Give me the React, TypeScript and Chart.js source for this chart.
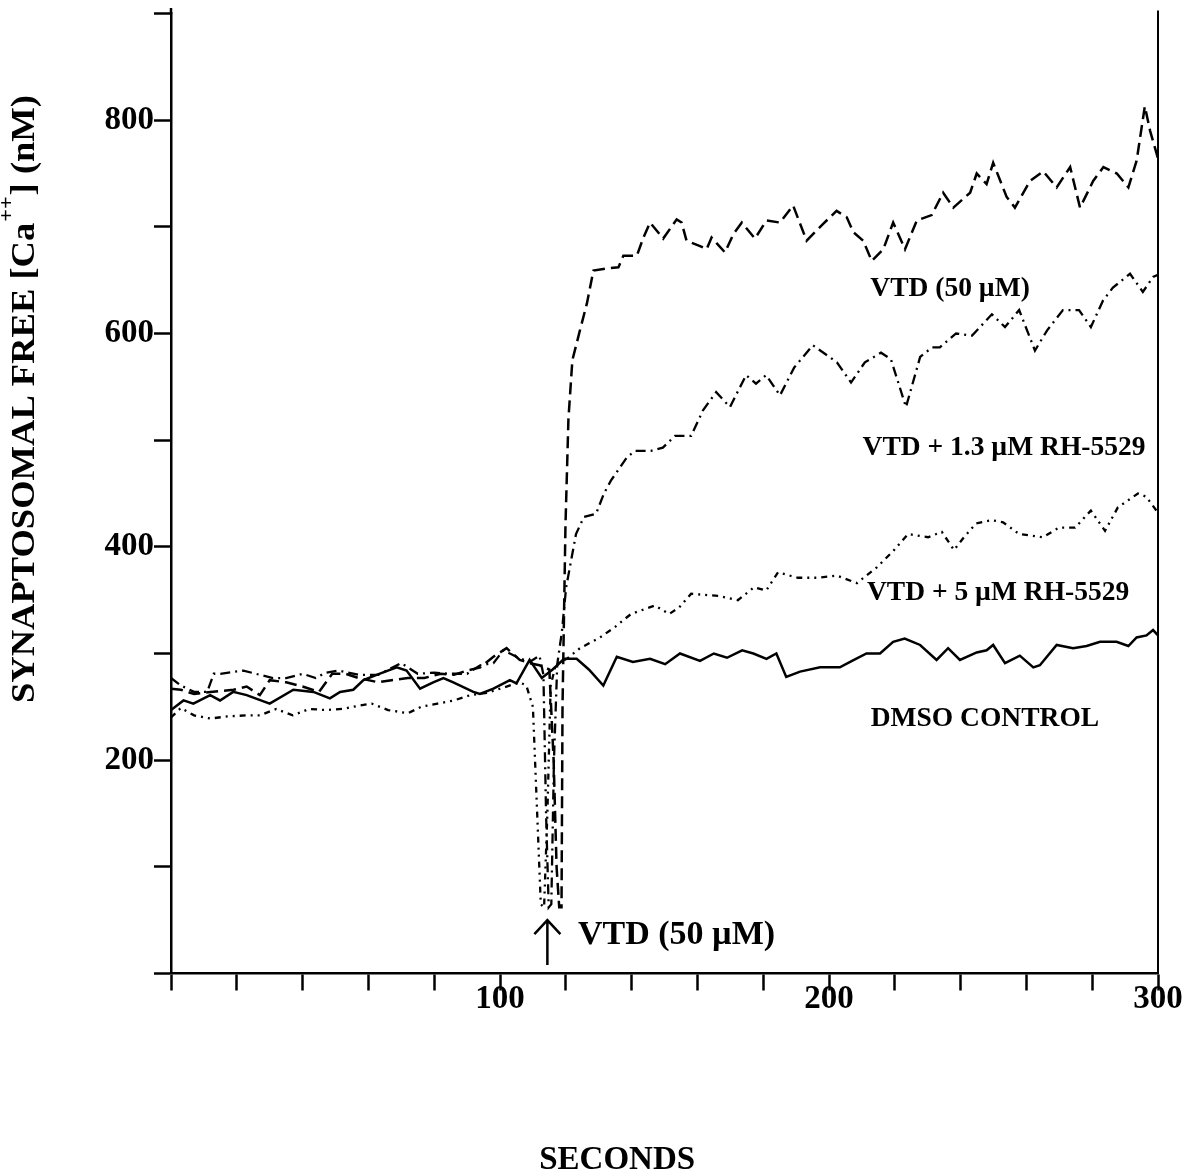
import React, { useEffect, useRef } from 'react';
import { Chart, registerables } from 'chart.js';

Chart.register(...registerables);

// ---- Data (time in seconds, [Ca++] in nM) ----
const dmsoT = [0, 3.8, 6.8, 11.9, 14.9, 18.9, 23, 30, 37.2, 43.3, 48.3, 51.4, 55.4, 58.5, 62.5, 68.6, 71.6, 75.7, 79.7, 82.8, 85.8, 91.9, 93.9, 98, 103, 105, 109, 112.7, 116, 119.5, 123.3, 127, 131.4, 135.5, 140.4, 145.6, 150.2, 154.7, 160.8, 165, 169, 173.6, 177, 181, 184, 187, 191.2, 197.3, 203.3, 207, 211.4, 215.5, 219.5, 223, 227.7, 232.7, 236.2, 239.8, 244.9, 247.9, 249.9, 253.5, 258, 262.1, 264.1, 269.2, 274.2, 278.3, 282.4, 287.4, 291, 293.5, 296.5, 298.5, 300];
const dmsoV = [247, 256, 253, 261, 256, 264, 261, 253, 266, 264, 258, 264, 266, 275, 280, 287, 284, 267, 273, 277, 273, 264, 262, 267, 275, 272, 294, 277, 285, 295, 295, 285, 270, 297, 292, 295, 290, 300, 293, 300, 296, 303, 300, 295, 300, 278, 283, 287, 287, 293, 300, 300, 311, 314, 308, 294, 305, 294, 301, 303, 308, 291, 298, 287, 289, 308, 305, 307, 311, 311, 307, 315, 317, 322, 317];

const vtdT = [0, 3, 7, 12, 19, 23, 27, 30, 35, 40, 45, 49, 53, 57, 63, 67, 72, 77, 82, 86, 90, 94, 98, 102, 106, 109, 112, 115, 116.3, 117.2, 118, 118.7, 119, 119.9, 120.8, 122, 124.3, 126.4, 128.4, 132.4, 136, 137.5, 141.6, 143.6, 145.6, 149.6, 153.7, 155.2, 156.7, 160.8, 162.8, 164.3, 168.4, 170.9, 173.5, 177.5, 181, 185.1, 189.1, 193.2, 198.3, 202.3, 205.4, 207.4, 210.4, 213, 216.5, 219.5, 223.1, 226.7, 231.2, 234.7, 237.8, 242.9, 244.9, 247.9, 249.9, 254, 256.5, 261.1, 265.1, 269.2, 273.3, 276.3, 280.3, 283.4, 287.5, 291, 293.5, 296, 297.6, 300];
const vtdV = [267, 266, 262, 264, 266, 269, 261, 275, 273, 269, 264, 281, 281, 277, 273, 275, 277, 277, 281, 280, 284, 287, 297, 305, 294, 291, 289, 285, 200, 100, 62, 62, 250, 420, 520, 575, 603, 628, 659, 661, 662, 673, 673, 690, 704, 689, 707, 704, 687, 682, 679, 690, 676, 693, 704, 689, 706, 704, 720, 687, 703, 715, 709, 695, 687, 668, 679, 704, 679, 706, 711, 732, 718, 732, 750, 740, 760, 728, 718, 743, 752, 737, 756, 718, 743, 756, 750, 737, 762, 813, 790, 764];

const rh13T = [0, 3, 7, 11, 13, 15, 22, 27, 31, 35, 40, 44, 47, 51, 57, 63, 70, 75, 80, 85, 90, 94, 98, 101, 105, 109, 112, 113.2, 114, 114.8, 115.6, 116.4, 117.4, 118.8, 120.1, 123.1, 125.5, 129.2, 131.6, 133.7, 138.6, 141, 145.9, 149.5, 153.2, 158.1, 161.7, 165.7, 169.9, 174.8, 177.8, 180.9, 185.1, 189.4, 195.1, 202.4, 206.7, 210.9, 215.8, 218.8, 223.4, 227.7, 231.3, 233.7, 238.6, 243.5, 249.5, 253.5, 257.8, 262.6, 266.3, 271.1, 276, 279.6, 283.3, 286.3, 291.5, 295.4, 298.5, 300];
const rh13V = [277, 270, 264, 264, 281, 281, 284, 280, 277, 277, 281, 277, 282, 284, 280, 280, 291, 281, 282, 281, 281, 289, 291, 303, 297, 292, 298, 280, 150, 62, 65, 200, 290, 320, 362, 412, 428, 431, 450, 462, 484, 490, 490, 493, 504, 504, 528, 545, 531, 561, 553, 561, 542, 568, 589, 573, 554, 573, 582, 576, 531, 578, 587, 587, 600, 598, 618, 606, 622, 584, 603, 622, 622, 606, 631, 643, 656, 639, 653, 655];

const rh5T = [0, 3, 7, 12, 17, 23, 27, 32, 37, 42, 47, 52, 57, 61, 66, 72, 76, 81, 86, 91, 96, 102, 106, 108, 110, 111.3, 112.4, 113.4, 114.4, 115.4, 117, 120.3, 124.3, 130.4, 135, 139.8, 147.1, 151.4, 154.4, 158.1, 166.3, 172.3, 177.2, 180.9, 184.5, 190.6, 196.4, 202.4, 208.5, 214.6, 219.5, 224, 230.1, 234.3, 238, 241, 244.7, 249.5, 252.9, 257.8, 265, 269.9, 274.8, 279.6, 283.9, 287.8, 293.9, 296.4, 300];
const rh5V = [240, 249, 242, 239, 241, 242, 242, 248, 242, 248, 247, 248, 251, 253, 247, 244, 250, 253, 256, 261, 263, 269, 273, 270, 250, 150, 65, 62, 150, 270, 290, 295, 305, 315, 325, 337, 345, 337, 343, 356, 354, 350, 362, 359, 376, 371, 371, 373, 366, 381, 396, 412, 409, 414, 397, 409, 422, 425, 423, 412, 409, 418, 418, 434, 415, 437, 450, 447, 432];

const xLabeled = [100, 200, 300];
const yLabeled = [200, 400, 600, 800];

const seriesNames = ['DMSO CONTROL', 'VTD (50 µM)', 'VTD + 1.3 µM RH-5529', 'VTD + 5 µM RH-5529'];

const FONT = '"Liberation Serif", "Times New Roman", serif';

const annotPlugin = {
  id: 'annot',
  afterDraw(chart: any) {
    const ctx: CanvasRenderingContext2D = chart.ctx;
    const xs = chart.scales.x;
    const ys = chart.scales.y;
    const px = (t: number) => xs.getPixelForValue(t);
    const py = (v: number) => ys.getPixelForValue(v);
    ctx.save();
    ctx.fillStyle = '#000';
    ctx.strokeStyle = '#000';

    // small overshoot of the left axis above the 900 tick, and right frame line
    ctx.lineWidth = 2.5;
    ctx.beginPath();
    ctx.moveTo(xs.left, ys.top - 5.5);
    ctx.lineTo(xs.left, ys.top + 1);
    ctx.stroke();
    ctx.lineWidth = 2;
    ctx.beginPath();
    ctx.moveTo(xs.right, ys.top - 3);
    ctx.lineTo(xs.right, ys.bottom);
    ctx.stroke();

    // curve labels
    ctx.font = `bold 27.5px ${FONT}`;
    ctx.textAlign = 'center';
    ctx.textBaseline = 'middle';
    ctx.fillText(seriesNames[1], px(236.8), py(642));
    ctx.fillText(seriesNames[2], px(253.2), py(493));
    ctx.fillText(seriesNames[3], px(251.4), py(357));
    ctx.fillText(seriesNames[0], px(247.4), py(239));

    // arrow marking VTD addition
    const ax = px(114.4);
    const aTop = py(50);
    const aBot = py(8);
    ctx.lineWidth = 2.5;
    ctx.beginPath();
    ctx.moveTo(ax, aBot);
    ctx.lineTo(ax, aTop);
    ctx.moveTo(ax - 13, aTop + 14);
    ctx.lineTo(ax, aTop);
    ctx.lineTo(ax + 13, aTop + 14);
    ctx.stroke();
    ctx.font = `bold 34px ${FONT}`;
    ctx.textAlign = 'left';
    ctx.fillText('VTD (50 µM)', px(123.7), py(36));

    // x axis title
    ctx.font = `bold 33px ${FONT}`;
    ctx.textAlign = 'center';
    ctx.fillText('SECONDS', px(135.6), 1160);

    // y axis title (rotated, with superscript)
    ctx.save();
    ctx.translate(34, 703);
    ctx.rotate(-Math.PI / 2);
    ctx.textAlign = 'left';
    ctx.textBaseline = 'alphabetic';
    const big = `bold 33px ${FONT}`;
    const small = `bold 20px ${FONT}`;
    const p1 = 'SYNAPTOSOMAL FREE [Ca';
    const sup = '++';
    const p2 = '] (nM)';
    ctx.font = big;
    const w1 = ctx.measureText(p1).width;
    const w2 = ctx.measureText(p2).width;
    ctx.font = small;
    const ws = ctx.measureText(sup).width + 2;
    const total = w1 + ws + w2;
    const k = 608 / total;
    ctx.scale(k, 1);
    ctx.font = big;
    ctx.fillText(p1, 0, 0);
    ctx.font = small;
    ctx.fillText(sup, w1 + 1, -21);
    ctx.font = big;
    ctx.fillText(p2, w1 + ws, 0);
    ctx.restore();

    ctx.restore();
  },
};

export default function App() {
  const ref = useRef<HTMLCanvasElement>(null);
  useEffect(() => {
    document.body.style.margin = '0';
    const canvas = ref.current;
    if (!canvas) return;
    const mk = (T: number[], V: number[]) => T.map((t, i) => ({ x: t, y: V[i] }));
    const common = { borderColor: '#000', backgroundColor: '#000', pointRadius: 0, fill: false, tension: 0 };
    const tickFont = { family: FONT, size: 33, weight: 'bold' as const };
    const chart = new Chart(canvas, {
      type: 'line',
      data: {
        datasets: [
          { ...common, label: seriesNames[0], data: mk(dmsoT, dmsoV), borderWidth: 2.5 },
          { ...common, label: seriesNames[1], data: mk(vtdT, vtdV), borderWidth: 2.5, borderDash: [12, 6] },
          { ...common, label: seriesNames[2], data: mk(rh13T, rh13V), borderWidth: 2.3, borderDash: [10, 5, 2, 5] },
          { ...common, label: seriesNames[3], data: mk(rh5T, rh5V), borderWidth: 2.3, borderDash: [6, 5, 2, 5, 2, 5] },
        ],
      },
      options: {
        animation: false,
        responsive: false,
        maintainAspectRatio: false,
        layout: { padding: { left: 0, right: 26, top: 13.5, bottom: 0 } },
        plugins: { legend: { display: false }, tooltip: { enabled: false } },
        scales: {
          x: {
            type: 'linear',
            min: 0,
            max: 300,
            ticks: {
              stepSize: 20,
              autoSkip: false,
              maxRotation: 0,
              color: '#000',
              font: tickFont,
              padding: -11,
              callback: (v: any) => (xLabeled.includes(Number(v)) ? String(v) : ''),
            },
            grid: { drawOnChartArea: false, drawTicks: true, tickLength: 17, tickColor: '#000', tickWidth: 2.5 },
            border: { display: true, color: '#000', width: 2.5 },
            afterFit: (s: any) => { s.height = 1176 - 973.5; s.paddingLeft = 0; s.paddingRight = 0; },
          },
          y: {
            type: 'linear',
            min: 0,
            max: 900,
            ticks: {
              stepSize: 100,
              autoSkip: false,
              color: '#000',
              font: tickFont,
              padding: 0,
              callback: (v: any) => (yLabeled.includes(Number(v)) ? String(v) : ''),
            },
            grid: { display: true, drawOnChartArea: false, drawTicks: true, tickLength: 17, tickColor: '#000', tickWidth: 2.5 },
            border: { display: true, color: '#000', width: 2.5 },
            afterFit: (s: any) => { s.width = 171; s.paddingTop = 0; s.paddingBottom = 0; },
          },
        },
      } as any,
      plugins: [annotPlugin],
    });
    return () => chart.destroy();
  }, []);
  return (
    <canvas
      ref={ref}
      width={1184}
      height={1176}
      style={{ display: 'block', width: 1184, height: 1176 }}
    />
  );
}
